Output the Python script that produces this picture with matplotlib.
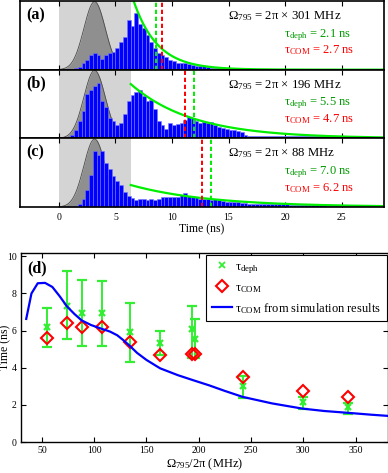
import numpy as np
import matplotlib
matplotlib.use('Agg')
import matplotlib.pyplot as plt
from matplotlib.lines import Line2D

plt.rcParams['font.family'] = ['Liberation Serif', 'DejaVu Serif']
plt.rcParams['mathtext.fontset'] = 'custom'
plt.rcParams['mathtext.rm'] = 'Liberation Serif'
plt.rcParams['mathtext.it'] = 'Liberation Serif:italic'
plt.rcParams['mathtext.bf'] = 'Liberation Serif:bold'
plt.rcParams['mathtext.default'] = 'rm'

# ---------------- data: histograms (normalised counts, bin width 1/3 ns, first bin at 0 ns)
bin_width = 1.0 / 3.0
hist_a = [0, 0, 0, 0, 0.02, 0.04, 0.09, 0.14, 0.21, 0.24, 0.21, 0.16, 0.21, 0.24, 0.26, 0.31,
          0.41, 0.48, 0.73, 0.63, 0.83, 0.66, 0.61, 0.51, 0.40, 0.31, 0.24, 0.21, 0.19, 0.14,
          0.12, 0.10, 0.09, 0.10, 0.08, 0.07, 0.06, 0.06, 0.05, 0.04, 0.03, 0.03, 0.02, 0.02,
          0.015, 0.01, 0.01, 0.01, 0.01, 0.01, 0.01, 0.005, 0.005, 0.005, 0.005, 0.005, 0.005,
          0.005, 0.005, 0.005, 0.005]
hist_b = [0, 0, 0.02, 0.05, 0.12, 0.25, 0.40, 0.64, 0.70, 0.76, 0.81, 0.54, 0.45, 0.30, 0.25,
          0.20, 0.22, 0.35, 0.55, 0.63, 0.67, 0.70, 0.62, 0.55, 0.56, 0.42, 0.25, 0.20, 0.13,
          0.23, 0.20, 0.21, 0.22, 0.27, 0.31, 0.29, 0.25, 0.23, 0.24, 0.22, 0.24, 0.19, 0.16,
          0.15, 0.14, 0.12, 0.12, 0.10, 0.09, 0.05, 0.04, 0.04, 0.04, 0.04, 0.04, 0.04, 0.04,
          0.04, 0.04, 0.04, 0.03, 0.03, 0.03, 0.03, 0.03, 0.03, 0.03, 0.03, 0.03, 0.03, 0.03,
          0.03, 0.02, 0.02, 0.02, 0.02, 0.02, 0.02, 0.02, 0.02, 0.01, 0.01, 0.01, 0.01, 0.01,
          0.01, 0.01]
hist_c = [0, 0, 0, 0, 0.02, 0.05, 0.12, 0.25, 0.47, 0.81, 0.76, 0.81, 0.64, 0.55, 0.45, 0.38,
          0.32, 0.22, 0.16, 0.13, 0.10, 0.11, 0.11, 0.10, 0.11, 0.10, 0.12, 0.14, 0.15, 0.15,
          0.14, 0.15, 0.17, 0.20, 0.16, 0.15, 0.14, 0.11, 0.11, 0.12, 0.10, 0.12, 0.10, 0.09,
          0.08, 0.08, 0.07, 0.07, 0.06, 0.06, 0.05, 0.04, 0.04, 0.04, 0.04, 0.04, 0.04, 0.04,
          0.04, 0.04, 0.04, 0.03, 0.03, 0.03, 0.03, 0.03, 0.03, 0.03, 0.03, 0.03, 0.03, 0.02,
          0.02, 0.02, 0.02, 0.02, 0.02, 0.02, 0.02, 0.02, 0.02, 0.01, 0.01, 0.01, 0.01, 0.01,
          0.01]
panel_tags = ['(a)', '(b)', '(c)']
rabi_mhz = [301, 196, 88]
tau_deph_fit = [2.1, 5.5, 7.0]
tau_com_fit = [2.7, 4.7, 6.2]
fit_amplitude = [1.13, 0.79, 0.32]
gate_end = 6.35          # end of shaded excitation window (ns)
pulse_center = 3.15      # Gaussian excitation pulse (ns)
pulse_sigma = 0.95
fit_start = 6.35
tau_origin = 6.45        # dashed markers drawn at tau_origin + tau
time_ticks = [0, 5, 10, 15, 20, 25]

# ---------------- data: panel (d)
rabi_points = [55, 74, 88, 107, 134, 163, 194, 196, 242, 300, 343]
tau_deph = [6.18, 7.35, 6.97, 6.97, 5.93, 5.35, 6.07, 5.53, 3.00, 2.15, 1.88]
tau_deph_low = [5.14, 5.53, 5.17, 5.17, 4.32, 4.68, 4.55, 4.55, 2.38, 1.80, 1.50]
tau_deph_high = [7.21, 9.19, 8.74, 8.69, 7.51, 5.98, 7.30, 6.62, 3.55, 2.43, 2.11]
tau_com = [5.59, 6.43, 6.22, 6.22, 5.37, 4.69, 4.72, 4.75, 3.51, 2.76, 2.43]
sim_rabi = [35, 40, 46, 53, 60, 67, 74, 81, 88, 97, 107, 115, 122, 128, 134, 141, 150,
            163, 180, 194, 210, 225, 242, 270, 299, 320, 343, 365, 380]
sim_tau = [6.63, 8.0, 8.55, 8.57, 8.35, 7.85, 7.3, 6.9, 6.55, 6.3, 6.1, 5.95, 5.75, 5.48,
           5.18, 4.8, 4.42, 3.97, 3.6, 3.34, 3.05, 2.75, 2.43, 2.08, 1.80, 1.67, 1.57,
           1.47, 1.41]

W, H = 388, 473
fig = plt.figure(figsize=(W / 100, H / 100), dpi=100)

GREEN_FIT = '#00ee00'
GREEN_TXT = '#009a00'
RED = '#ff0000'
BLUE = '#0000ff'

hists = [hist_a, hist_b, hist_c]
left_px, right_px = 20, 384
top_px, panel_h = 1, 68.67
for i in range(3):
    t0 = top_px + i * panel_h
    ax = fig.add_axes([left_px / W, 1 - (t0 + panel_h) / H, (right_px - left_px) / W, panel_h / H])
    ax.set_xlim(-3.45, 28.76)
    ax.set_ylim(0, 1.0)
    ax.axvspan(0, gate_end, color='#d4d4d4', lw=0, zorder=0)
    tg = np.linspace(0, gate_end, 200)
    g = 0.99 * np.exp(-0.5 * ((tg - pulse_center) / pulse_sigma) ** 2)
    ax.fill_between(tg, 0, g, color='#8f8f8f', lw=0, zorder=1)
    ax.plot(tg, g, color='#4a4a4a', lw=0.6, zorder=1.5)
    h = np.array(hists[i])
    edges = np.arange(len(h)) * bin_width
    ax.bar(edges, h, width=bin_width, align='edge', color=BLUE, edgecolor='#7a7aff',
           linewidth=0.4, zorder=2)
    tf = np.linspace(fit_start, 29, 300)
    ax.plot(tf, fit_amplitude[i] * np.exp(-(tf - fit_start) / tau_deph_fit[i]),
            color=GREEN_FIT, lw=1.6, zorder=3)
    ax.axvline(tau_origin + tau_com_fit[i], color=RED, lw=1.4, ls=(0, (2.2, 1.4)), zorder=4)
    ax.axvline(tau_origin + tau_deph_fit[i], color=GREEN_FIT, lw=1.4, ls=(0, (2.2, 1.4)), zorder=4)
    ax.set_xticks(time_ticks)
    ax.set_yticks([])
    ax.tick_params(axis='x', direction='in', top=True, bottom=True, length=3.5, width=0.8,
                   labelsize=7, pad=4, labelbottom=(i == 2))
    for s in ax.spines.values():
        s.set_linewidth(1.2)
        s.set_zorder(6)
    ax.text(0.0165, 0.735, panel_tags[i], transform=ax.transAxes, fontsize=11.5,
            fontweight='bold', ha='left', va='baseline')
    ax.text(0.571, 0.733, 'Ω$_{795}$ = 2π × %d MHz' % rabi_mhz[i], transform=ax.transAxes,
            fontsize=9.2, ha='left', va='baseline')
    ax.text(0.725, 0.476, 'τ$_{\\mathrm{deph}}$ = %.1f ns' % tau_deph_fit[i],
            transform=ax.transAxes, fontsize=9, color=GREEN_TXT, ha='left', va='baseline')
    ax.text(0.725, 0.233, 'τ$_{\\mathrm{COM}}$ = %.1f ns' % tau_com_fit[i],
            transform=ax.transAxes, fontsize=9, color=RED, ha='left', va='baseline')
    if i == 2:
        ax.set_xlabel('Time (ns)', fontsize=8.5, labelpad=1)

# ---------------- panel (d)
axd = fig.add_axes([21 / W, 1 - 442 / H, 367 / W, 189 / H])
axd.set_xlim(30, 381)
axd.set_ylim(0, 10.18)
yerr = [np.array(tau_deph) - np.array(tau_deph_low), np.array(tau_deph_high) - np.array(tau_deph)]
axd.errorbar(rabi_points, tau_deph, yerr=yerr, fmt='x', color='#33ee33', ecolor='#33ee33',
             elinewidth=1.4, capsize=3.5, capthick=1.4, markersize=5, mew=1.6, zorder=2)
axd.plot(rabi_points, tau_com, 'D', mfc='none', mec=RED, mew=1.5, markersize=6.5, zorder=3)
axd.plot(sim_rabi, sim_tau, color=BLUE, lw=1.6, zorder=4)
axd.set_xticks([50, 100, 150, 200, 250, 300, 350])
axd.set_yticks([0, 2, 4, 6, 8, 10])
axd.tick_params(direction='in', top=True, right=True, length=3.5, width=0.8, labelsize=7, pad=3)
for s in axd.spines.values():
    s.set_linewidth(1.0)
axd.set_xlabel('Ω$_{795}$/2π (MHz)', fontsize=9, labelpad=1)
axd.set_ylabel('Time (ns)', fontsize=8.5)
axd.yaxis.set_label_coords(-0.026, 0.5)
axd.text(0.016, 0.895, '(d)', transform=axd.transAxes, fontsize=11.5, fontweight='bold',
         ha='left', va='baseline')
handles = [Line2D([], [], marker='x', ls='none', color='#33ee33', mew=1.3, markersize=5),
           Line2D([], [], marker='D', ls='none', mfc='none', mec=RED, mew=1.5, markersize=6.5),
           Line2D([], [], color=BLUE, lw=1.6)]
labels = ['τ$_{\\mathrm{deph}}$', 'τ$_{\\mathrm{COM}}$', 'τ$_{\\mathrm{COM}}$ from simulation results']
leg = axd.legend(handles, labels, loc='upper right', bbox_to_anchor=(0.997, 0.989),
                 borderaxespad=0, fontsize=9, fancybox=False, framealpha=1,
                 edgecolor='black', handlelength=1.6, handletextpad=0.3, labelspacing=0.5,
                 borderpad=0.45)
leg.get_frame().set_linewidth(0.8)

fig.savefig('out.png', dpi=100)
